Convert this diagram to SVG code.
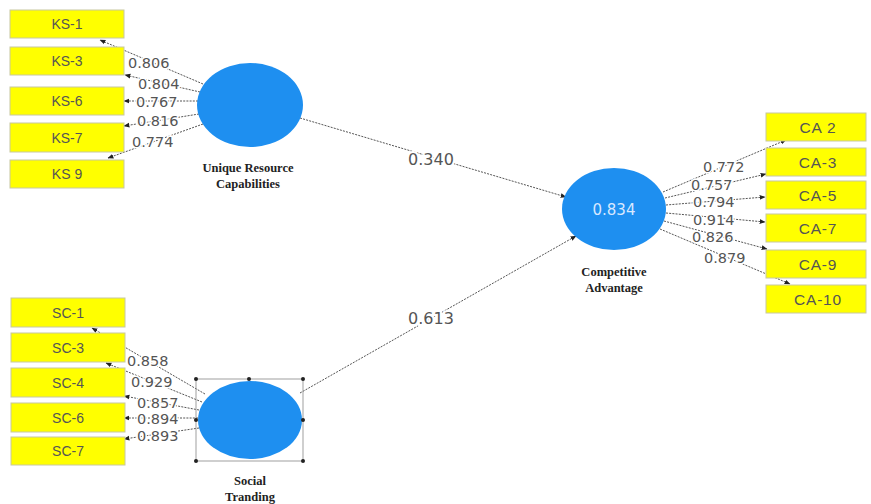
<svg xmlns="http://www.w3.org/2000/svg" width="871" height="504" viewBox="0 0 871 504">
<defs>
<marker id="ah" viewBox="0 0 10 10" refX="9" refY="5" markerWidth="6" markerHeight="6" orient="auto"><path d="M0,1 L10,5 L0,9 z" fill="#222"/></marker>
<style>
.box{fill:#ffff00;stroke:#c8c8a0;stroke-width:1}
.bt{font-family:"Liberation Sans",Arial,sans-serif;font-size:14px;fill:#555;text-anchor:middle}
.ct{font-family:"Liberation Sans",Arial,sans-serif;font-size:15.5px;fill:#555;text-anchor:middle;letter-spacing:0.8px}
.lv{fill:#1e8ff0}
.lab{font-family:"Liberation Serif","Times New Roman",serif;font-size:12.5px;font-weight:bold;fill:#222;text-anchor:middle}
.c{stroke:#555;stroke-width:1;fill:none;stroke-dasharray:2 1.2;marker-end:url(#ah)}
.n{font-family:"DejaVu Sans",sans-serif;font-size:14.5px;fill:#555;paint-order:stroke;stroke:#fff;stroke-width:3}
.p{font-family:"DejaVu Sans",sans-serif;font-size:16px;fill:#555;paint-order:stroke;stroke:#fff;stroke-width:4}
.h{fill:#222}
</style>
</defs>
<rect width="871" height="504" fill="#fff"/>
<g id="connectors">
<line class="c" x1="203" y1="84" x2="100" y2="40"/>
<line class="c" x1="200" y1="92" x2="125" y2="75"/>
<line class="c" x1="198" y1="101" x2="124" y2="101"/>
<line class="c" x1="199" y1="114" x2="124" y2="126"/>
<line class="c" x1="203" y1="124" x2="108" y2="158"/>
<line class="c" x1="205" y1="394" x2="92" y2="328"/>
<line class="c" x1="202" y1="402" x2="106" y2="363"/>
<line class="c" x1="199" y1="410" x2="124" y2="396"/>
<line class="c" x1="198" y1="418" x2="124" y2="418"/>
<line class="c" x1="199" y1="428" x2="124" y2="439"/>
<line class="c" x1="663" y1="192" x2="786" y2="140"/>
<line class="c" x1="665" y1="198" x2="766" y2="174"/>
<line class="c" x1="666" y1="205" x2="765" y2="197"/>
<line class="c" x1="666" y1="213" x2="765" y2="222"/>
<line class="c" x1="664" y1="221" x2="767" y2="249"/>
<line class="c" x1="660" y1="229" x2="790" y2="284"/>
<line class="c" x1="300" y1="118" x2="566" y2="197"/>
<line class="c" x1="300" y1="393" x2="576" y2="236"/>
<text class="n" x="128" y="68">0.806</text>
<text class="n" x="138" y="89">0.804</text>
<text class="n" x="136" y="107">0.767</text>
<text class="n" x="137" y="126">0.816</text>
<text class="n" x="132" y="147">0.774</text>
<text class="n" x="127" y="366">0.858</text>
<text class="n" x="131" y="387">0.929</text>
<text class="n" x="137" y="408">0.857</text>
<text class="n" x="137" y="424">0.894</text>
<text class="n" x="137" y="441">0.893</text>
<text class="n" x="703" y="172">0.772</text>
<text class="n" x="691" y="190">0.757</text>
<text class="n" x="693" y="207">0.794</text>
<text class="n" x="693" y="225">0.914</text>
<text class="n" x="692" y="242">0.826</text>
<text class="n" x="704" y="263">0.879</text>
<text class="p" x="408" y="165">0.340</text>
<text class="p" x="408" y="324">0.613</text>
</g>
<g id="KS-1"><rect class="box" x="10" y="10" width="114" height="28"/><text class="bt" x="67" y="29">KS-1</text></g>
<g id="KS-3"><rect class="box" x="10" y="47" width="114" height="28"/><text class="bt" x="67" y="66">KS-3</text></g>
<g id="KS-6"><rect class="box" x="10" y="87" width="114" height="28"/><text class="bt" x="67" y="106">KS-6</text></g>
<g id="KS-7"><rect class="box" x="10" y="123" width="114" height="29"/><text class="bt" x="67" y="143">KS-7</text></g>
<g id="KS-9"><rect class="box" x="10" y="160" width="114" height="28"/><text class="bt" x="67" y="179">KS 9</text></g>
<g id="SC-1"><rect class="box" x="11" y="298" width="114" height="29"/><text class="bt" x="68" y="318">SC-1</text></g>
<g id="SC-3"><rect class="box" x="11" y="333" width="114" height="29"/><text class="bt" x="68" y="353">SC-3</text></g>
<g id="SC-4"><rect class="box" x="11" y="368" width="114" height="29"/><text class="bt" x="68" y="388">SC-4</text></g>
<g id="SC-6"><rect class="box" x="11" y="403" width="114" height="29"/><text class="bt" x="68" y="423">SC-6</text></g>
<g id="SC-7"><rect class="box" x="11" y="437" width="114" height="28"/><text class="bt" x="68" y="456">SC-7</text></g>
<g id="CA-2"><rect class="box" x="766" y="113" width="100" height="28"/><text class="ct" x="818" y="133">CA 2</text></g>
<g id="CA-3"><rect class="box" x="766" y="148" width="100" height="28"/><text class="ct" x="818" y="168">CA-3</text></g>
<g id="CA-5"><rect class="box" x="766" y="181" width="100" height="28"/><text class="ct" x="818" y="201">CA-5</text></g>
<g id="CA-7"><rect class="box" x="766" y="214" width="100" height="28"/><text class="ct" x="818" y="234">CA-7</text></g>
<g id="CA-9"><rect class="box" x="766" y="250" width="100" height="28"/><text class="ct" x="818" y="270">CA-9</text></g>
<g id="CA-10"><rect class="box" x="766" y="285" width="100" height="28"/><text class="ct" x="818" y="305">CA-10</text></g>
<g id="URC">
<ellipse class="lv" cx="250" cy="105" rx="53" ry="42"/>
<text class="lab" x="248" y="172">Unique Resource</text>
<text class="lab" x="248" y="188">Capabilities</text>
</g>
<g id="CA">
<ellipse class="lv" cx="614" cy="209" rx="52" ry="41"/>
<text x="614" y="215" text-anchor="middle" font-family="'DejaVu Sans',sans-serif" font-size="15" fill="#d8e8ff">0.834</text>
<text class="lab" x="614" y="276">Competitive</text>
<text class="lab" x="614" y="292">Advantage</text>
</g>
<g id="ST">
<rect x="196" y="379" width="107" height="82" fill="none" stroke="#888" stroke-width="0.8"/>
<ellipse class="lv" cx="250" cy="420" rx="52" ry="39"/>
<circle class="h" cx="196" cy="379" r="2"/><circle class="h" cx="249" cy="379" r="2"/><circle class="h" cx="303" cy="379" r="2"/>
<circle class="h" cx="196" cy="420" r="2"/><circle class="h" cx="303" cy="420" r="2"/>
<circle class="h" cx="196" cy="461" r="2"/><circle class="h" cx="303" cy="461" r="2"/>
<text class="lab" x="250" y="485">Social</text>
<text class="lab" x="250" y="501">Tranding</text>
</g>
</svg>
